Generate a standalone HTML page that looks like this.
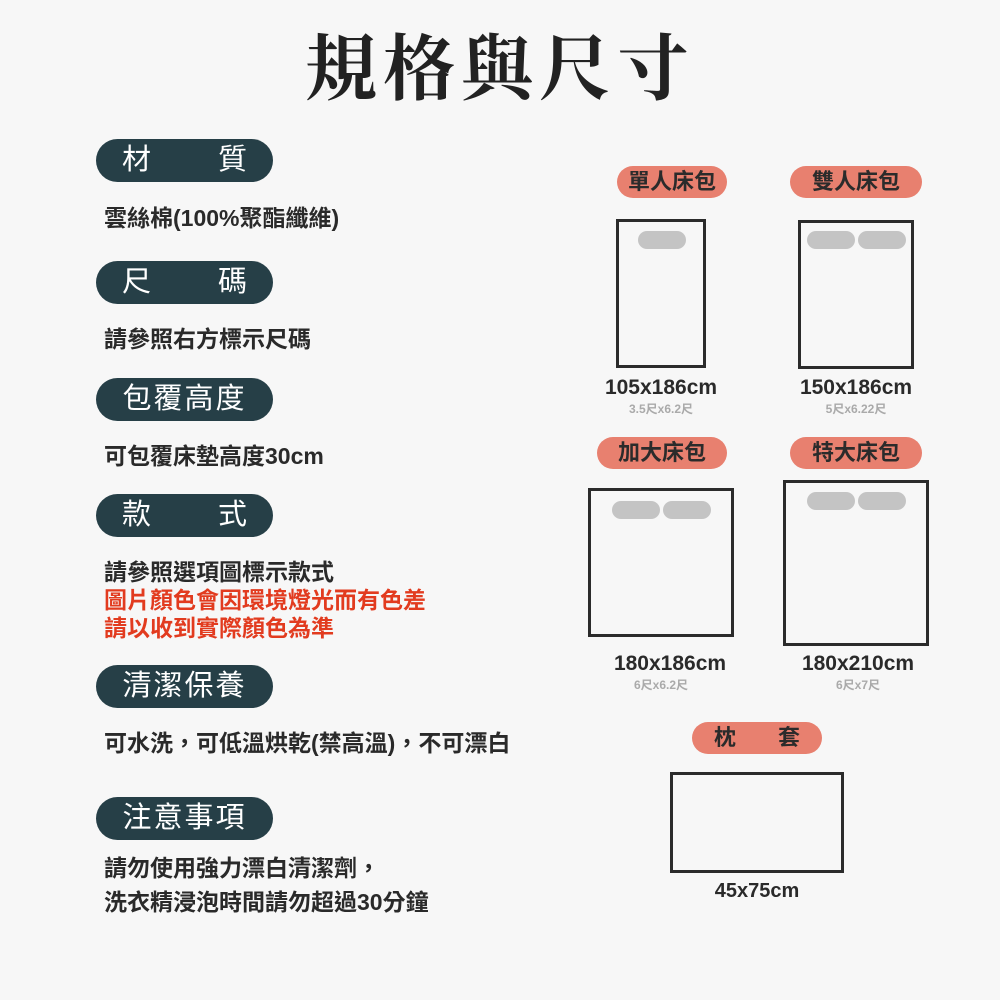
<!DOCTYPE html>
<html><head><meta charset="utf-8"><style>
body{margin:0;width:1000px;height:1000px;background:#f7f7f7;position:relative;overflow:hidden;font-family:"Liberation Sans","Noto Sans CJK TC",sans-serif;}
.a{position:absolute;}
.pill{position:absolute;left:96px;width:177px;height:43px;border-radius:22px;background:#263f47;color:#fff;font-size:29px;line-height:43px;box-sizing:border-box;padding:0 26px;display:flex;justify-content:space-between;white-space:nowrap;}
.pill.c{justify-content:center;padding:0;letter-spacing:2px;}
.t{position:absolute;left:104px;font-size:23px;font-weight:bold;color:#2a2a2a;line-height:28px;white-space:nowrap;}
.r{color:#e23b1f;}
.sp{position:absolute;height:32px;border-radius:16px;background:#e8806f;color:#2b2b2b;font-size:22px;font-weight:bold;line-height:32px;text-align:center;}
.box{position:absolute;border:3px solid #2b2b2b;box-sizing:border-box;}
.pw{position:absolute;width:48px;height:18px;border-radius:9px;background:#c4c4c4;}
.dim{position:absolute;font-size:21px;font-weight:bold;color:#2a2a2a;text-align:center;width:200px;}
.sub{position:absolute;font-size:12px;font-weight:bold;color:#aaa;text-align:center;width:200px;}
</style></head><body>
<div class="a" style="left:0;width:1000px;top:22px;text-align:center;font-family:'Liberation Serif','Noto Serif CJK SC',serif;font-weight:bold;font-size:72px;letter-spacing:6px;color:#222;line-height:96px">規格與尺寸</div>

<div class="pill" style="top:139px"><span>材</span><span>質</span></div>
<div class="t" style="top:204px">雲絲棉(100%聚酯纖維)</div>
<div class="pill" style="top:261px"><span>尺</span><span>碼</span></div>
<div class="t" style="top:325px">請參照右方標示尺碼</div>
<div class="pill c" style="top:378px">包覆高度</div>
<div class="t" style="top:442px">可包覆床墊高度30cm</div>
<div class="pill" style="top:494px"><span>款</span><span>式</span></div>
<div class="t" style="top:558px">請參照選項圖標示款式<br><span class="r">圖片顏色會因環境燈光而有色差<br>請以收到實際顏色為準</span></div>
<div class="pill c" style="top:665px">清潔保養</div>
<div class="t" style="top:729px">可水洗，可低溫烘乾(禁高溫)，不可漂白</div>
<div class="pill c" style="top:797px">注意事項</div>
<div class="t" style="top:851px;line-height:34px">請勿使用強力漂白清潔劑，<br>洗衣精浸泡時間請勿超過30分鐘</div>

<div class="sp" style="left:617px;top:166px;width:110px">單人床包</div>
<div class="sp" style="left:790px;top:166px;width:132px">雙人床包</div>
<div class="box" style="left:616px;top:219px;width:90px;height:149px"></div>
<div class="pw" style="left:638px;top:231px"></div>
<div class="box" style="left:798px;top:220px;width:116px;height:149px"></div>
<div class="pw" style="left:807px;top:231px"></div><div class="pw" style="left:858px;top:231px"></div>
<div class="dim" style="left:561px;top:376px">105x186cm</div>
<div class="sub" style="left:561px;top:400px">3.5尺x6.2尺</div>
<div class="dim" style="left:756px;top:376px">150x186cm</div>
<div class="sub" style="left:756px;top:400px">5尺x6.22尺</div>

<div class="sp" style="left:597px;top:437px;width:130px">加大床包</div>
<div class="sp" style="left:790px;top:437px;width:132px">特大床包</div>
<div class="box" style="left:588px;top:488px;width:146px;height:149px"></div>
<div class="pw" style="left:612px;top:501px"></div><div class="pw" style="left:663px;top:501px"></div>
<div class="box" style="left:783px;top:480px;width:146px;height:166px"></div>
<div class="pw" style="left:807px;top:492px"></div><div class="pw" style="left:858px;top:492px"></div>
<div class="dim" style="left:570px;top:652px">180x186cm</div>
<div class="sub" style="left:561px;top:676px">6尺x6.2尺</div>
<div class="dim" style="left:758px;top:652px">180x210cm</div>
<div class="sub" style="left:758px;top:676px">6尺x7尺</div>

<div class="sp" style="left:692px;top:722px;width:130px;display:flex;justify-content:space-between;padding:0 22px;box-sizing:border-box"><span>枕</span><span>套</span></div>
<div class="box" style="left:670px;top:772px;width:174px;height:101px"></div>
<div class="dim" style="left:657px;top:880px;font-size:20px">45x75cm</div>
</body></html>
